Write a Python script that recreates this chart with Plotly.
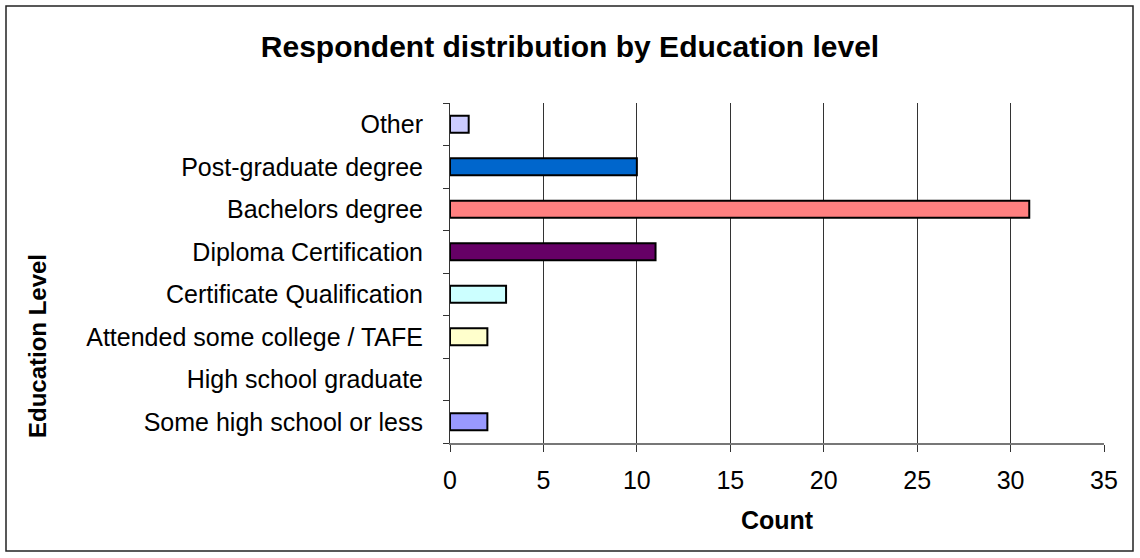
import plotly.graph_objects as go

# Education levels, bottom to top
levels = [
    "Some high school or less",
    "High school graduate",
    "Attended some college / TAFE",
    "Certificate Qualification",
    "Diploma Certification",
    "Bachelors degree",
    "Post-graduate degree",
    "Other",
]
counts = [2, 0, 2, 3, 11, 31, 10, 1]
bar_colors = ["#9999FF", "#FFFFFF", "#FFFFCC", "#CCFFFF", "#660066", "#FF8080", "#0066CC", "#CCCCFF"]
x_ticks = [0, 5, 10, 15, 20, 25, 30, 35]

font = "Liberation Sans, Arial, sans-serif"

fig = go.Figure(
    go.Bar(
        y=levels,
        x=counts,
        orientation="h",
        width=0.4,
        marker=dict(
            color=bar_colors,
            line=dict(color="black", width=[2 if c > 0 else 0 for c in counts]),
        ),
        hoverinfo="x+y",
    )
)

fig.update_layout(
    width=1140,
    height=558,
    margin=dict(l=450, r=36, t=103, b=115),
    paper_bgcolor="white",
    plot_bgcolor="white",
    showlegend=False,
    font=dict(family=font, size=25, color="black"),
    title=dict(
        text="<b>Respondent distribution by Education level</b>",
        x=0.5,
        xanchor="center",
        y=1 - 46 / 558,
        yanchor="middle",
        font=dict(family=font, size=30, color="black"),
    ),
    xaxis=dict(
        range=[0, 35],
        tickvals=x_ticks,
        ticks="outside",
        ticklen=7,
        tickcolor="#333333",
        showgrid=True,
        gridcolor="#333333",
        gridwidth=1,
        showline=True,
        linecolor="#777777",
        linewidth=2,
        zeroline=False,
        tickfont=dict(size=25),
        ticklabelstandoff=7,
        title=dict(text="<b>Count</b>", font=dict(size=25), standoff=18),
        fixedrange=True,
    ),
    yaxis=dict(
        type="category",
        categoryorder="array",
        categoryarray=levels,
        tickson="boundaries",
        ticks="outside",
        ticklen=6,
        tickcolor="#333333",
        showline=True,
        linecolor="#333333",
        linewidth=1,
        showgrid=False,
        tickfont=dict(size=25),
        ticklabelstandoff=21,
        fixedrange=True,
    ),
    annotations=[
        dict(
            text="<b>Education Level</b>",
            xref="paper",
            yref="paper",
            x=(37 - 450) / (1140 - 450 - 36),
            y=(558 - 115 - 346) / (558 - 103 - 115),
            textangle=-90,
            showarrow=False,
            xanchor="center",
            yanchor="middle",
            font=dict(family=font, size=24, color="black"),
        )
    ],
    shapes=[
        dict(
            type="rect",
            xref="paper",
            yref="paper",
            x0=(6 - 450) / 654,
            x1=(1133 - 450) / 654,
            y0=(558 - 115 - 551) / 340,
            y1=(558 - 115 - 6) / 340,
            line=dict(color="#222222", width=1.5),
            fillcolor="rgba(0,0,0,0)",
            layer="below",
        )
    ],
)

fig.write_html("out.html")
